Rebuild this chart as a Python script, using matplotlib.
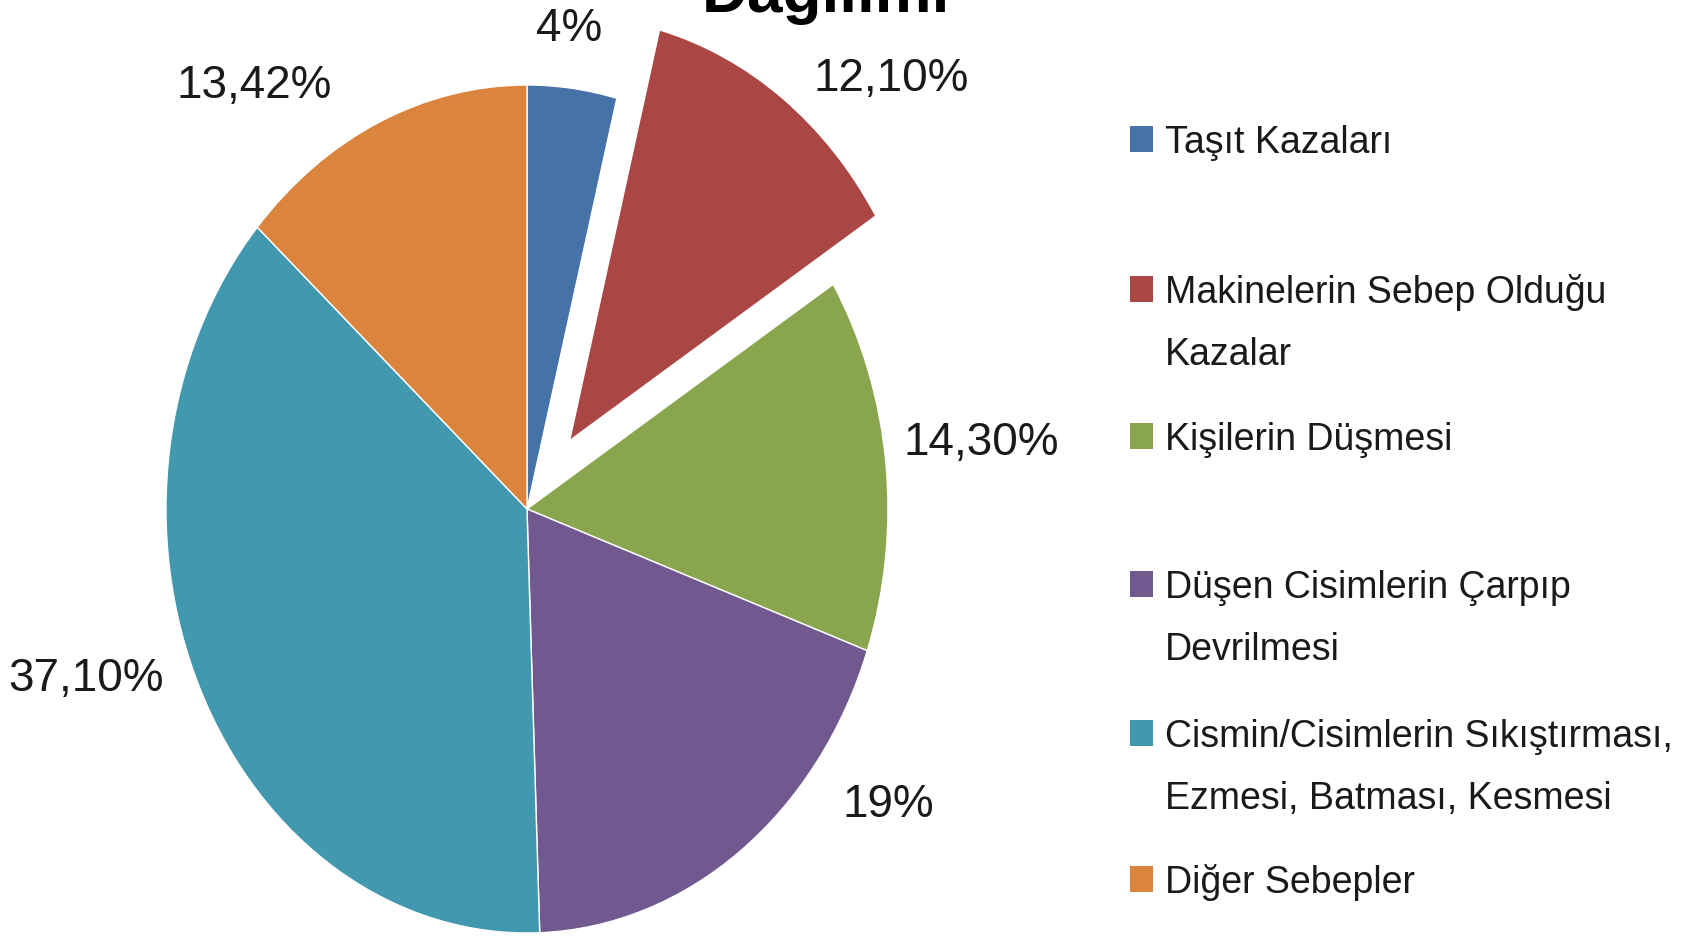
import matplotlib
matplotlib.use('Agg')
import matplotlib.pyplot as plt
from matplotlib.patches import Rectangle

plt.rcParams['font.family'] = ['Liberation Sans', 'DejaVu Sans']

# data
categories = ['Taşıt Kazaları', 'Makinelerin Sebep Olduğu\nKazalar', 'Kişilerin Düşmesi',
              'Düşen Cisimlerin Çarpıp\nDevrilmesi', 'Cismin/Cisimlerin Sıkıştırması,\nEzmesi, Batması, Kesmesi',
              'Diğer Sebepler']
values = [4, 12.10, 14.30, 19, 37.10, 13.42]
value_labels = ['4%', '12,10%', '14,30%', '19%', '37,10%', '13,42%']
colors = ['#4572A7', '#AA4643', '#89A54E', '#71588F', '#4198AF', '#DB843D']
explode = [0, 0.2, 0, 0, 0, 0]

# label spots (pie radius units) and legend baselines (pixels from top)
label_pos = [(0.116, 1.134), (1.008, 1.016), (1.258, 0.158), (1.0, -0.696), (-1.222, -0.399), (-0.756, 1.0)]
legend_base = [153, 303, 450, 598, 747, 893]
line_step = 62

W, H = 1694, 937
fig = plt.figure(figsize=(W / 100, H / 100), dpi=100)
cx, cy, rx, ry = 527, 510, 361, 424
ax = fig.add_axes([(cx - rx) / W, (H - cy - ry) / H, 2 * rx / W, 2 * ry / H])

ax.pie(values, colors=colors, explode=explode, startangle=90, counterclock=False,
       wedgeprops=dict(edgecolor='white', linewidth=1))
ax.set_aspect('auto')
ax.set_xlim(-1, 1)
ax.set_ylim(-1, 1)
ax.axis('off')

for (x, y), txt in zip(label_pos, value_labels):
    ax.text(x, y, txt, ha='center', va='center', fontsize=33, color='#1a1a1a', clip_on=False)

# partially visible title
fig.text(826 / W, 1 - 12 / H, 'Dağılımı', ha='center', va='baseline', fontsize=46,
         fontweight='bold')

# legend
for lab, col, b in zip(categories, colors, legend_base):
    fig.add_artist(Rectangle((1130 / W, 1 - b / H), 23 / W, 26 / H, transform=fig.transFigure,
                             facecolor=col, edgecolor='none'))
    for i, line in enumerate(lab.split('\n')):
        fig.text(1165 / W, 1 - (b + i * line_step) / H, line, ha='left', va='baseline',
                 fontsize=27, color='#1a1a1a')

fig.savefig('out.png', dpi=100)
